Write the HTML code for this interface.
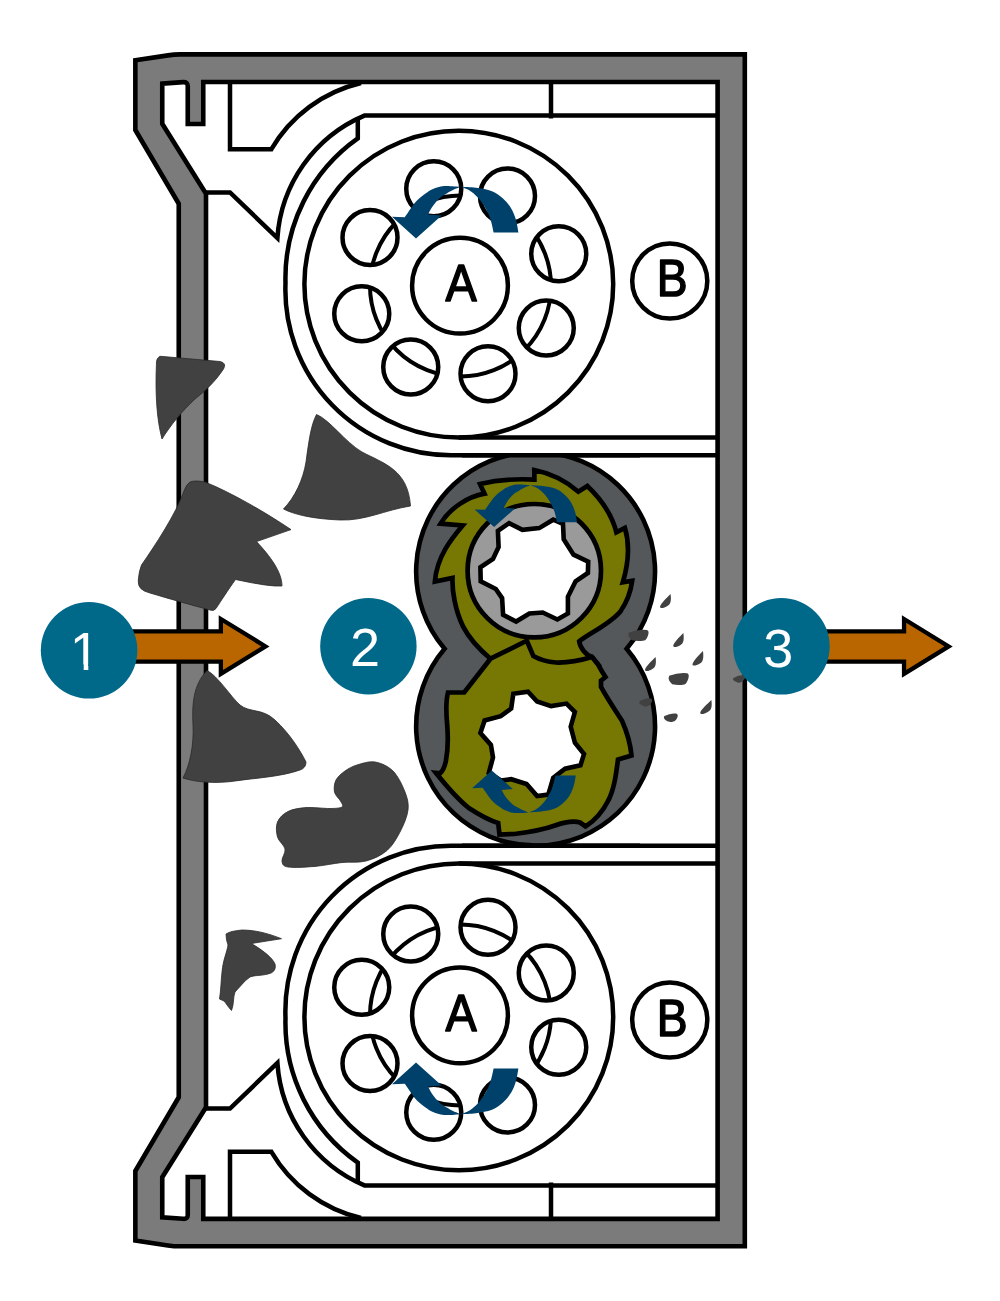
<!DOCTYPE html>
<html><head><meta charset="utf-8"><title>Diagram</title>
<style>html,body{margin:0;padding:0;background:#fff}svg{display:block}
text{font-family:"Liberation Sans",sans-serif}</style></head>
<body><svg width="1000" height="1301" viewBox="0 0 1000 1301">
<rect width="1000" height="1301" fill="#fff"/>
<defs>
<path id="arrow" d="M460.8,186.8 C463.3,187.0 470.8,187.1 476.0,187.8 C481.2,188.5 487.5,189.4 492.0,191.2 C496.5,193.0 499.8,195.6 503.0,198.5 C506.2,201.4 509.0,204.8 511.2,208.4 C513.4,212.0 514.8,216.0 516.0,220.0 C517.2,224.0 518.0,230.3 518.4,232.4 L493.6,232.4 C493.2,230.8 492.3,225.9 491.5,223.0 C490.7,220.1 490.1,217.8 488.8,214.8 C487.5,211.8 485.4,207.9 483.5,205.0 C481.6,202.1 479.9,199.6 477.6,197.2 C475.3,194.8 472.4,192.2 469.6,190.5 C466.8,188.8 462.3,187.4 460.8,186.8 Z M460.8,186.8 C458.0,186.7 448.6,185.6 444.0,186.0 C439.4,186.4 436.2,187.7 433.0,189.0 C429.8,190.3 427.4,192.2 424.8,194.0 C422.2,195.8 419.6,197.9 417.5,200.0 C415.4,202.1 414.1,203.9 412.0,206.8 C409.9,209.7 406.0,215.5 404.8,217.2 L392,216.7 L416,238.5 L441.6,215.6 L428,214.5 C428.6,213.4 430.2,210.1 431.5,208.0 C432.8,205.9 434.4,203.8 436.0,202.0 C437.6,200.2 439.1,198.5 441.0,197.0 C442.9,195.5 445.2,194.4 447.2,193.2 C449.2,192.0 450.7,191.1 453.0,190.0 C455.3,188.9 459.5,187.3 460.8,186.8 Z" fill="#00416b"/>
<clipPath id="holes"><circle cx="433.75" cy="188.75" r="27.5"/><circle cx="558.75" cy="253.75" r="27.5"/><circle cx="546.25" cy="328" r="27.5"/><circle cx="488" cy="373.75" r="27.5"/><circle cx="410.75" cy="367" r="27.5"/><circle cx="361.75" cy="313.75" r="27.5"/><circle cx="370" cy="237.5" r="27.5"/></clipPath>
<g id="unit" fill="none" stroke="#000" stroke-width="4.5" stroke-linejoin="miter">
<path d="M230,82 L230,149.2 L271.4,149.2 A141.1,141.1 0 0 1 361,83"/>
<path d="M206,192.5 L230,192.5 L277.4,238 A143.3,143.3 0 0 1 364.4,115.6 L717,115.6"/>
<path d="M357.8,117.5 L357.8,138.4 A171.1,171.1 0 0 0 285.5,283 A165.6,165.6 0 0 0 452,455.25 L717,455.25"/>
<ellipse cx="458.8" cy="284.1" rx="154.4" ry="153.4"/>
<path d="M458.8,437.5 L717,437.5"/>
<path d="M551,82 L551,118.5"/>
<circle cx="433.75" cy="188.75" r="27.5"/>
<circle cx="507.5" cy="196" r="27.5"/>
<circle cx="558.75" cy="253.75" r="27.5"/>
<circle cx="546.25" cy="328" r="27.5"/>
<circle cx="488" cy="373.75" r="27.5"/>
<circle cx="410.75" cy="367" r="27.5"/>
<circle cx="361.75" cy="313.75" r="27.5"/>
<circle cx="370" cy="237.5" r="27.5"/>
<circle cx="460.5" cy="286" r="90.5" clip-path="url(#holes)" stroke-width="4"/>
<circle cx="460" cy="285.6" r="47.9"/>
<circle cx="669.75" cy="281" r="37.55"/>
<use href="#arrow" stroke="none"/>
</g>
</defs>
<use href="#unit"/>
<use href="#unit" transform="matrix(1 0 0 -1 0 1301)"/>
<path d="M135.35,60.2 L168,55.4 Q174,54.45 180,54.4 L744.8,54.4 L744.8,1246.3 L180,1246.3 Q174,1246.3 168,1245.4 L135.35,1240.6 L135.35,1171 L178.75,1097.25 L178.75,203.75 L135.35,130 Z M162.25,83.6 L183,82.1 Q187.75,81.8 187.75,86 L187.75,124 L203.25,124 L203.25,82 L717.6,82 L717.6,1218.9 L203.25,1218.9 L203.25,1177 L187.75,1177 L187.75,1215 Q187.75,1219.2 183,1218.8 L162.25,1217.4 L162.25,1177.25 L206,1107.25 L206,193.75 L162.25,123.75 Z" fill="#7b7b7b" fill-rule="evenodd" stroke="#000" stroke-width="4.6" stroke-linejoin="miter"/>
<clipPath id="hclip"><rect x="400" y="455.25" width="280" height="390.5"/></clipPath>
<path d="M444.58,648.85 A119.45,119.45 0 1 1 626.62,648.85 A119.45,119.45 0 1 1 444.58,648.85 Z" fill="#54585b" stroke="#000" stroke-width="4.6" stroke-linejoin="miter" clip-path="url(#hclip)"/>
<path d="M462,455.25 H640 M462,845.75 H640" stroke="#000" stroke-width="4.4"/>
<path d="M534.3,470 L534.4,479.6 Q505,478 480,484 L484.5,493.6 C468,496.5 450,508 440.5,523.7 L462.7,525.4 C452,538 437,556 434.9,581.5 L452.5,578 C452,590 455,610 463,626.4 C470,640 480,650 490.5,658.7 L520,680 L597.8,664.2 L592,657  C586,655 580,648 579.2,641.3 C590,633 610,624 620.4,611.5 C627,602 631,590 632.2,580.8 L622.8,582.4 C628,565 630,545 624.9,527.9 L616.4,532.3 C612,515 601,499 587.3,486 L578.4,491.7 C566,481 552,473.5 534.3,470 Z" fill="#777704" stroke="#000" stroke-width="4.7" stroke-linejoin="miter" stroke-miterlimit="6"/>
<circle cx="534.3" cy="570.7" r="66.7" fill="#9a9a9a" stroke="#000" stroke-width="4.7"/>
<path d="M497.9,530.9 L509.1,523.2 L522.4,529.9 L539.2,528.1 L553.2,519.7 L563.0,523.9 L563.7,539.3 L573.5,554.7 L588.2,561.7 L587.9,572.9 L575.6,581.3 L567.9,596.7 L567.9,613.5 L557.4,619.5 L542.7,612.5 L529.4,613.5 L516.1,621.5 L503.1,614.9 L502.1,598.1 L495.8,589.0 L480.7,581.3 L480.4,567.3 L493.0,558.9 L498.6,547.0 Z" fill="#fff" stroke="#000" stroke-width="4.6" stroke-linejoin="miter"/>
<path d="M490.5,658.7 L526.8,640.7 L533.4,656.1 C540,660 548,662 556,662.5 C570,663 582,660 592,657 L597.8,664.2 L602,671.5 L605.5,677 L601,680.6 L601,686.8 C606,696 615,710 622,720.7 C627,732 630.5,745 631.5,755.5 L618,759.5 C616,775 614,790 608,801 C603,811 594,821 585.5,826.5 L580,822.5 C572,820 562,823 554.2,825.7 C545,829 530,832 514.5,834 L499.5,834.5 L498.2,823 C488,820 478,814 468.8,808 C460,801 448,788 436,773 L440,773.4 Q444,770 445.9,761 C448,750 448,735 447.2,725 C446,712 446,700 448,692.5 L464.2,692.4 Z" fill="#777704" stroke="#000" stroke-width="4.7" stroke-linejoin="miter" stroke-miterlimit="6"/>
<path d="M513.3,693.8 L528.0,691.7 L537.1,701.5 L551.1,706.1 L566.5,703.6 L574.9,712.0 L570.7,726.7 L574.9,742.8 L584.0,754.0 L580.5,765.2 L565.1,768.7 L553.2,777.8 L548.3,794.6 L537.1,796.0 L526.6,784.1 L511.2,779.2 L501.4,780.6 L488.8,772.9 L493.0,757.5 L490.9,744.9 L480.4,733.0 L484.6,720.4 L500.7,716.2 L511.2,708.5 Z" fill="#fff" stroke="#000" stroke-width="4.6" stroke-linejoin="miter"/>
<use href="#arrow" transform="matrix(0.81 0 0 0.81 157.15 333.9)"/>
<use href="#arrow" transform="matrix(0.82 0 0 -0.81 150.7 963.7)"/>
<path d="M160,357 Q158,356 163,356.5 L220,361.5 Q227,363 223.5,369 C215,382 205,391 195,399 C182,411 170,426 162,439 C157,420 155,395 156.5,362 Q157,357 160,357 Z" fill="#414141" stroke="#2a2a2a" stroke-width="0.8"/>
<path d="M316.5,414.5 C330,420 345,442 362,452 C385,464 408,470 410.5,506 C385,510 365,521 340,520 C315,519 295,515 283.5,509 C295,497 303,480 306,462 C309,440 311,425 316.5,414.5 Z" fill="#414141" stroke="#2a2a2a" stroke-width="0.8"/>
<path d="M190,482 Q195,480 205,482 C230,492 265,512 291,529.6 L256.5,541.6 C270,556 282,572 282,586 Q270,587 235.5,579.5 C228,590 221,601 216,608.5 Q214,611.5 210,610 C195,606 170,599 150,593 Q137,590 138.3,580 Q139,571 141.5,565 C154,547 176,514 184,491 Q186.5,484 190,482 Z" fill="#414141" stroke="#2a2a2a" stroke-width="0.8"/>
<path d="M207,670.5 C218,676 230,696 240,705 C250,713 262,708 275,720 C290,734 300,750 306,762 Q306,768 300,770 C280,777 255,778 235,781 C215,784 195,782 183,778 C190,765 194,745 193,725 C192,705 193,685 207,670.5 Z" fill="#414141" stroke="#2a2a2a" stroke-width="0.8"/>
<path d="M357.0,765.0 C362.0,763.5 369.0,761.0 375.0,762.0 C381.0,763.0 388.0,766.0 393.0,771.0 C398.0,776.0 402.5,785.5 405.0,792.0 C407.5,798.5 408.8,803.5 408.0,810.0 C407.2,816.5 404.0,824.2 400.5,831.0 C397.0,837.8 392.8,845.5 387.0,850.5 C381.2,855.5 373.5,859.0 366.0,861.0 C358.5,863.0 350.5,861.6 342.0,862.5 C333.5,863.4 324.0,865.6 315.0,866.4 C306.0,867.1 293.5,867.9 288.0,867.0 C282.5,866.1 282.5,864.0 282.0,861.0 C281.5,858.0 285.8,853.0 285.0,849.0 C284.2,845.0 278.8,841.5 277.5,837.0 C276.2,832.5 275.8,826.2 277.5,822.0 C279.2,817.8 283.2,813.9 288.0,811.5 C292.8,809.1 299.0,808.1 306.0,807.6 C313.0,807.1 324.0,808.6 330.0,808.5 C336.0,808.4 340.2,808.2 342.0,807.0 C343.8,805.8 341.8,803.5 340.5,801.0 C339.2,798.5 335.2,795.5 334.5,792.0 C333.8,788.5 334.2,783.5 336.0,780.0 C337.8,776.5 341.5,773.5 345.0,771.0 C348.5,768.5 352.0,766.5 357.0,765.0 Z" fill="#414141" stroke="#2a2a2a" stroke-width="0.8"/>
<path d="M226,934 Q230,931 242,930 C258,930 272,935 281.5,938.7 L251.5,943.5 C262,950 272,957 275,964 Q277,972 268,974 C260,976 255,975 250,977 C244,981 240,987 235,992 C233,997 234,1005 231.5,1010.5 C228,1007 226,1003 224,1001 L219.5,999 C221,990 221,980 222,972 C223,960 227,952 228,945 Q226,940 226,934 Z" fill="#414141" stroke="#2a2a2a" stroke-width="0.8"/>
<path d="M670.6,594 C671.1,599 671.6,604.2 667,606.2 C664,608.2 660,608.7 660,606.7 C661,603.2 666.6,598 670.6,594 Z" fill="#414141"/>
<path d="M683.4,633 C683.9,638 684.4,643.2 680.2,645.2 C677.2,647.2 673.2,647.7 673.2,645.7 C674.2,642.2 679.4,637 683.4,633 Z" fill="#414141"/>
<path d="M703,651 C703.5,656 704,661.8 699.4,663.8 C696.4,665.8 692.4,666.3 692.4,664.3 C693.4,660.8 699,655 703,651 Z" fill="#414141"/>
<path d="M655.6,657 C656.1,662 656.6,667.2 652,669.2 C649,671.2 645,671.7 645,669.7 C646,666.2 651.6,661 655.6,657 Z" fill="#414141"/>
<path d="M711.4,700 C711.9,705 712.4,710.2 707.2,712.2 C704.2,714.2 700.2,714.7 700.2,712.7 C701.2,709.2 707.4,704 711.4,700 Z" fill="#414141"/>
<path d="M629.0,632.5 Q638.5,629.0 647.0,630.0 Q649.5,631.0 648.0,635.4 Q646.0,640.8 644.0,640.5 Q638.5,641.8 632.0,640.3 Q627.0,636.4 629.0,632.5 Z" fill="#414141"/>
<path d="M669.2,675.8 Q678.7,672.3 687.2,673.3 Q689.7,674.3 688.2,679 Q686.2,684.7 684.2,684.4000000000001 Q678.7,685.7 672.2,684.2 Q667.2,680 669.2,675.8 Z" fill="#414141"/>
<path d="M639.8000000000001,700.9 Q645.7,697.4 650.6,698.4 Q653.1,699.4 651.6,702.3 Q649.6,706.1999999999999 647.6,705.9 Q645.7,707.1999999999999 642.8000000000001,705.6999999999999 Q637.8000000000001,703.3 639.8000000000001,700.9 Z" fill="#414141"/>
<path d="M664.4,716.1 Q670.8,712.6 676.1999999999999,713.6 Q678.6999999999999,714.6 677.1999999999999,717.7 Q675.1999999999999,721.8000000000001 673.1999999999999,721.5000000000001 Q670.8,722.8000000000001 667.4,721.3000000000001 Q662.4,718.7 664.4,716.1 Z" fill="#414141"/>
<path d="M733.5,678.0 Q739,674.5 743.5,675.5 Q746.0,676.5 744.5,679 Q742.5,682.5 740.5,682.2 Q739,683.5 736.5,682.0 Q731.5,680 733.5,678.0 Z" fill="#414141"/>
<polygon points="100,631.4 220.85,631.4 220.85,619 265.45,646.4 220.85,673.8 220.85,661.7 100,661.7" fill="#ba6600" stroke="#000" stroke-width="4.3" stroke-linejoin="miter" stroke-miterlimit="6"/>
<polygon points="790,631.4 904.05,631.4 904.05,619 948.65,646.4 904.05,673.8 904.05,661.7 790,661.7" fill="#ba6600" stroke="#000" stroke-width="4.3" stroke-linejoin="miter" stroke-miterlimit="6"/>
<circle cx="89.1" cy="650.3" r="48.3" fill="#00698a"/>
<circle cx="368.4" cy="646.3" r="48.2" fill="#00698a"/>
<circle cx="781.4" cy="646.3" r="48.3" fill="#00698a"/>
<g font-size="54" fill="#fff" text-anchor="middle">
<text x="84.7" y="669.6">1</text>
<text x="364.9" y="666.3">2</text>
<text x="778.2" y="666.5">3</text>
</g>
<path d="M70,664.6 H83.7 V671 H70 Z M88.3,664.6 H100 V671 H88.3 Z" fill="#00698a"/>
<g font-size="52" fill="#000" stroke="#000" stroke-width="1.5" stroke-linejoin="round" text-anchor="middle">
<text transform="translate(461,301.2) scale(0.9,1)">A</text>
<text transform="translate(461.2,1031.3) scale(0.9,1)">A</text>
<text transform="translate(672.1,296.3) scale(0.89,1)">B</text>
<text transform="translate(672.1,1035.8) scale(0.89,1)">B</text>
</g>
</svg></body></html>
